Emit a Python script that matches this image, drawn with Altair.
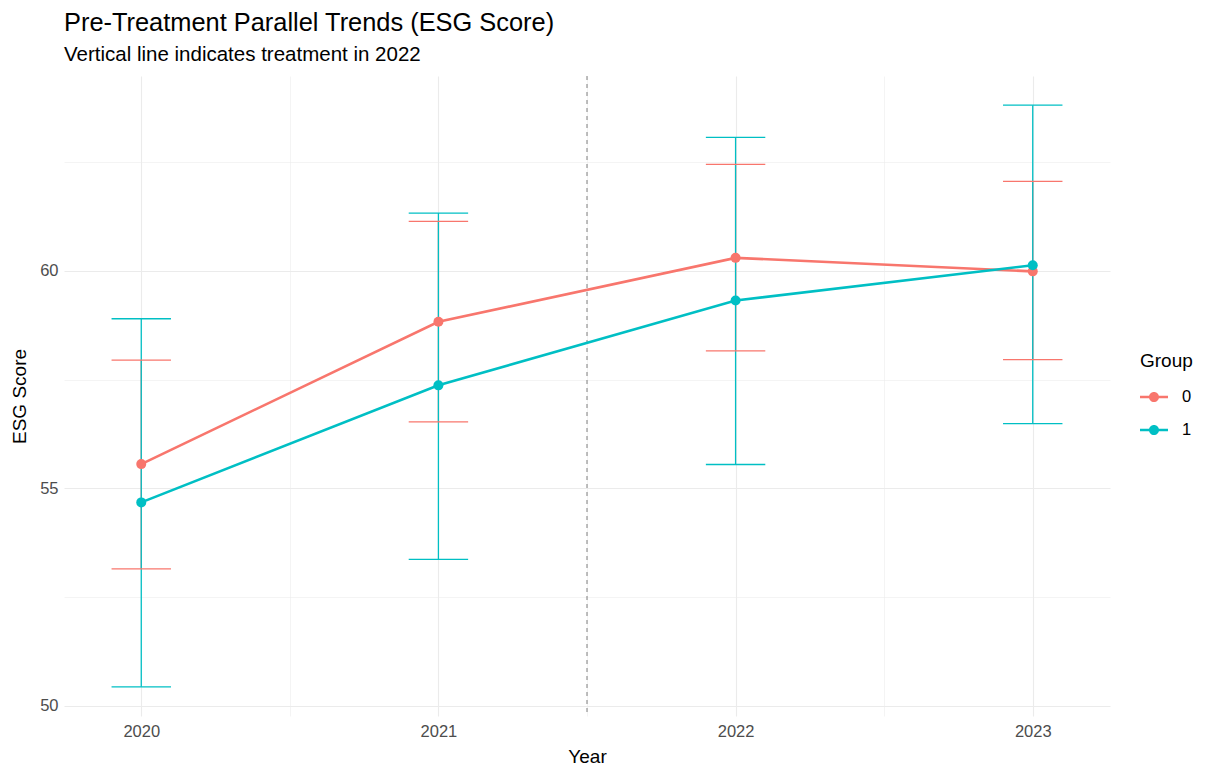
import altair as alt
import pandas as pd

# ---- data ----
years = [2020, 2021, 2022, 2023]
group_0_mean = [55.56, 58.83, 60.30, 59.99]
group_0_low = [53.15, 56.53, 58.16, 57.96]
group_0_high = [57.95, 61.14, 62.45, 62.06]
group_1_mean = [54.68, 57.37, 59.32, 60.13]
group_1_low = [50.44, 53.37, 55.55, 56.49]
group_1_high = [58.90, 61.33, 63.07, 63.81]
treatment_x = [2021.5]
group_names = ["0", "1"]
group_colors = ["#F8766D", "#00BFC4"]
y_ticks = [50, 52.5, 55, 57.5, 60, 62.5]
x_ticks = [2020, 2020.5, 2021, 2021.5, 2022, 2022.5, 2023]

rows = []
for g, m, lo, hi in [("0", group_0_mean, group_0_low, group_0_high),
                     ("1", group_1_mean, group_1_low, group_1_high)]:
    for yr, mv, lv, hv in zip(years, m, lo, hi):
        rows.append({"Year": yr, "Group": g, "ESG": mv, "lo": lv, "hi": hv})
df = pd.DataFrame(rows)
vline_df = pd.DataFrame({"x": treatment_x})

FONT = "Liberation Sans"
xscale = alt.Scale(domain=[2019.74, 2023.26], nice=False, zero=False)
yscale = alt.Scale(domain=[49.77, 64.48], nice=False, zero=False)
cscale = alt.Scale(domain=group_names, range=group_colors)

grid_w = {"condition": {"test": "datum.value % 1 == 0", "value": 1.1}, "value": 0.55}
grid_wy = {"condition": {"test": "datum.value % 5 == 0", "value": 1.1}, "value": 0.55}

x_axis = alt.Axis(values=x_ticks, title="Year",
                  labelExpr="datum.value % 1 == 0 ? '' + datum.value : ''",
                  gridWidth=grid_w)
y_axis = alt.Axis(values=y_ticks, title="ESG Score",
                  labelExpr="datum.value % 5 == 0 ? '' + datum.value : ''",
                  gridWidth=grid_wy)

base = alt.Chart(df)

x_enc = alt.X("Year:Q", scale=xscale, axis=x_axis)
color_nolegend = alt.Color("Group:N", scale=cscale, legend=None)

err = base.mark_rule(strokeWidth=1.3).encode(
    x=x_enc,
    y=alt.Y("lo:Q", scale=yscale, axis=y_axis),
    y2="hi:Q",
    color=color_nolegend,
)

cap_common = base.transform_calculate(
    xl="datum.Year - 0.1", xr="datum.Year + 0.1"
)
cap_hi = cap_common.mark_rule(strokeWidth=1.3).encode(
    x=alt.X("xl:Q", scale=xscale), x2="xr:Q",
    y=alt.Y("hi:Q", scale=yscale),
    color=color_nolegend,
)
cap_lo = cap_common.mark_rule(strokeWidth=1.3).encode(
    x=alt.X("xl:Q", scale=xscale), x2="xr:Q",
    y=alt.Y("lo:Q", scale=yscale),
    color=color_nolegend,
)

vline = alt.Chart(vline_df).mark_rule(color="#7F7F7F", strokeWidth=1, strokeDash=[4, 4]).encode(
    x=alt.X("x:Q", scale=xscale),
)

lines = base.mark_line(strokeWidth=2.6).encode(
    x=alt.X("Year:Q", scale=xscale),
    y=alt.Y("ESG:Q", scale=yscale),
    color=color_nolegend,
)

legend_symbol = ("M-1,-0.09L1,-0.09L1,0.09L-1,0.09Z "
                 "M0.36,0A0.36,0.36,0,1,1,-0.36,0A0.36,0.36,0,1,1,0.36,0Z")

points = base.mark_point(filled=True, size=100, opacity=1).encode(
    x=alt.X("Year:Q", scale=xscale),
    y=alt.Y("ESG:Q", scale=yscale),
    color=alt.Color("Group:N", scale=cscale, legend=alt.Legend(
        title="Group", orient="none", legendX=1076, legendY=276,
        symbolType=legend_symbol, symbolSize=784, symbolStrokeWidth=0,
        symbolOpacity=1, labelOffset=14, rowPadding=10, titlePadding=12,
        titleFontSize=19, titleFontWeight="normal", titleColor="#000000",
        labelFontSize=16.5, labelColor="#000000", titleFont=FONT, labelFont=FONT,
    )),
)

chart = alt.layer(err, cap_hi, cap_lo, vline, lines, points).resolve_legend(
    color="independent"
).properties(
    width=1046, height=640,
    title=alt.TitleParams(
        text="Pre-Treatment Parallel Trends (ESG Score)",
        subtitle="Vertical line indicates treatment in 2022",
        anchor="start", frame="group", font=FONT, subtitleFont=FONT,
        fontSize=25.4, subtitleFontSize=20.5, fontWeight="normal",
        color="#000000", subtitleColor="#000000", offset=10, subtitlePadding=9,
    ),
    autosize=alt.AutoSizeParams(type="none"),
    padding={"left": 64, "top": 76, "right": 99, "bottom": 55},
).configure(background="white").configure_view(stroke=None).configure_axis(
    domain=False, ticks=False, gridColor="#EBEBEB",
    labelColor="#4D4D4D", labelFontSize=16.5, labelFont=FONT,
    titleColor="#000000", titleFontSize=19, titleFontWeight="normal", titleFont=FONT,
).configure_axisX(labelPadding=7, titlePadding=8).configure_axisY(
    labelPadding=6, titlePadding=10
)

chart.save("out.html", embed_options={"renderer": "svg", "actions": False})
